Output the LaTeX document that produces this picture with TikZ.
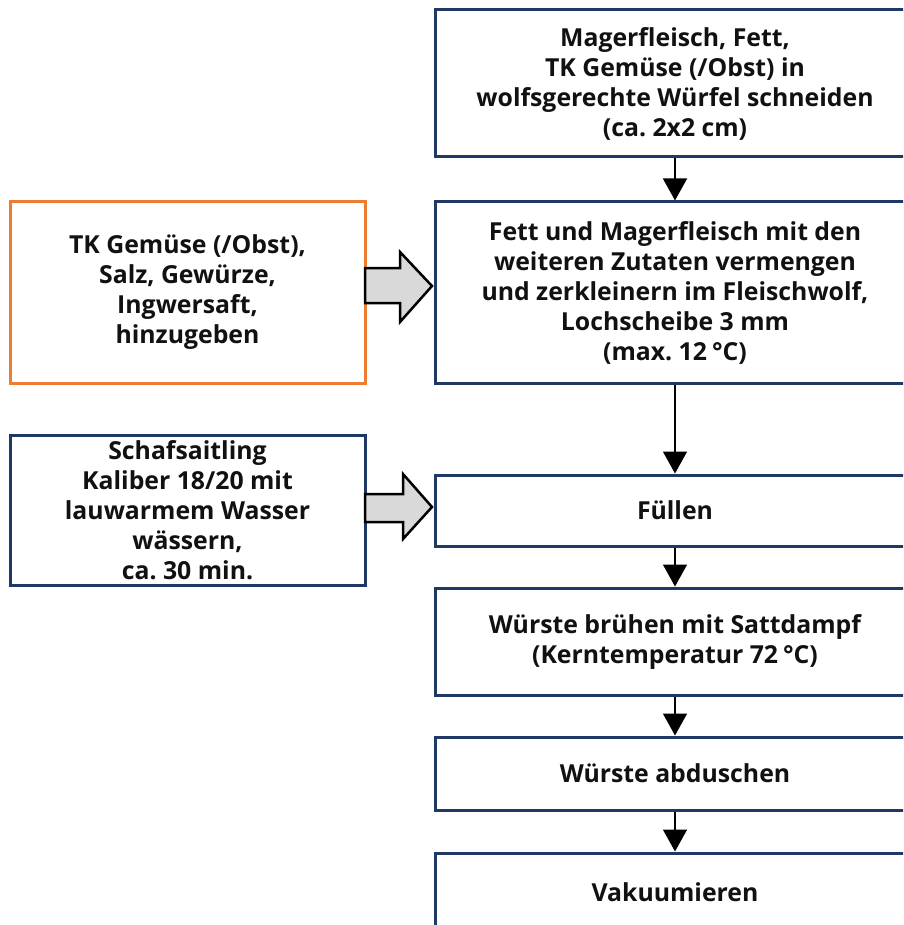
\documentclass[tikz,border=0pt]{standalone}
\usepackage{fontspec}
\setmainfont{Open Sans}
\usetikzlibrary{arrows.meta}
\definecolor{navy}{HTML}{203864}
\definecolor{orng}{HTML}{ED7D31}
\definecolor{txt}{HTML}{111111}
\definecolor{arrgray}{HTML}{D9D9D9}
\frenchspacing
\begin{document}
\begin{tikzpicture}[x=1pt,y=-1pt,
  box/.style={draw=navy,line width=3pt,fill=white,minimum width=480pt,align=center,
    text=txt,font=\bfseries\fontsize{24.8}{30}\selectfont,inner sep=0pt},
  sidebox/.style={box,minimum width=355pt},
  obox/.style={sidebox,draw=orng},
  flow/.style={line width=1.5pt,-{Triangle[length=22pt,width=24pt]}},
  blockarrow/.style={draw=black,line width=2.5pt,fill=arrgray,line join=miter}]
\useasboundingbox (0,0) rectangle (903,925);
\clip (0,0) rectangle (903,925);
\fill[white] (0,0) rectangle (903,925);

\node[box,minimum height=147pt] (A) at (675,83.5) {Magerfleisch, Fett,\\TK Gemüse (/Obst) in\\wolfsgerechte Würfel schneiden\\(ca. 2x2 cm)};
\node[box,minimum height=181pt] (B) at (675,292.5) {Fett und Magerfleisch mit den\\weiteren Zutaten vermengen\\und zerkleinern im Fleischwolf,\\Lochscheibe 3 mm\\(max. 12\hspace{0.2em}°C)};
\node[obox,minimum height=181pt] (O) at (187.5,292.5) {TK Gemüse (/Obst),\\Salz, Gewürze,\\Ingwersaft,\\hinzugeben};
\node[sidebox,minimum height=150pt] (L) at (187.5,510) {Schafsaitling\\Kaliber 18/20 mit\\lauwarmem Wasser\\wässern,\\ca. 30 min.};
\node[box,minimum height=71pt] (F) at (675,510.5) {Füllen};
\node[box,minimum height=107pt] (W) at (675,641.5) {Würste brühen mit Sattdampf\\(Kerntemperatur 72\hspace{0.2em}°C)};
\node[box,minimum height=73pt] (D) at (675,773.5) {Würste abduschen};
\node[box,minimum height=78pt] (V) at (675,892) {Vakuumieren};

\draw[flow] (A.south) -- (B.north);
\draw[flow] (B.south) -- (F.north);
\draw[flow] (F.south) -- (W.north);
\draw[flow] (W.south) -- (D.north);
\draw[flow] (D.south) -- (V.north);

\draw[blockarrow] (365,268) -- (400,268) -- (400,252) -- (432,286) -- (400,322) -- (400,303) -- (365,303) -- cycle;
\draw[blockarrow] (365,494) -- (403,494) -- (403,474) -- (432,507) -- (403,539) -- (403,522) -- (365,522) -- cycle;
\end{tikzpicture}
\end{document}
